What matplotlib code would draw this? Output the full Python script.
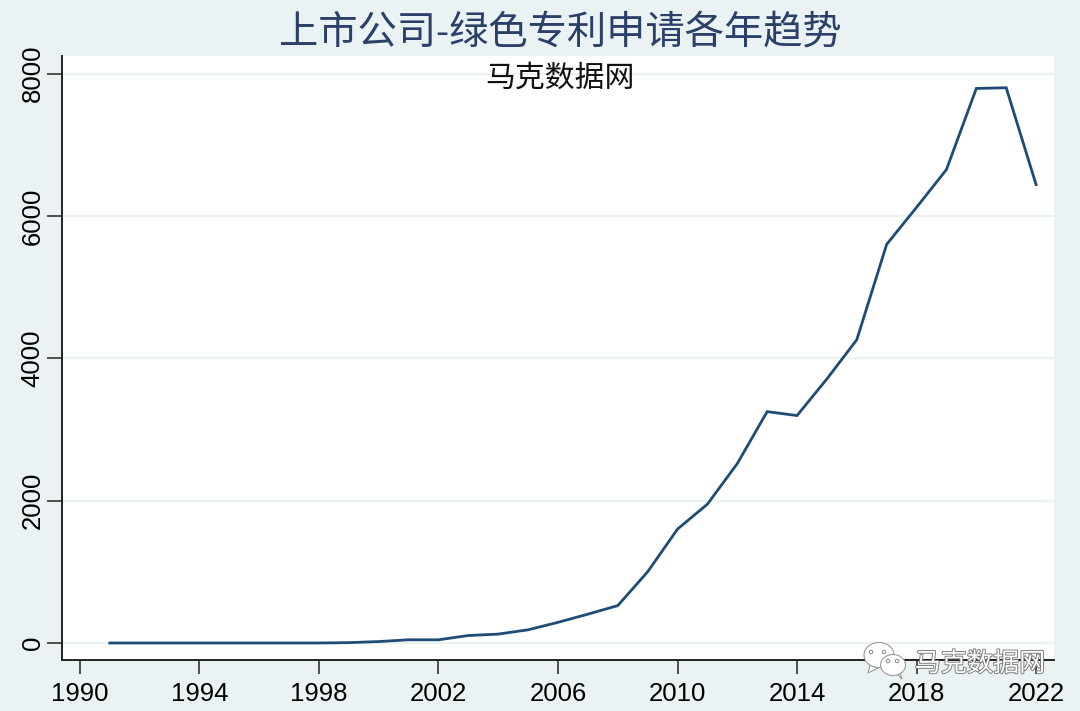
import matplotlib
matplotlib.use("Agg")
import matplotlib.pyplot as plt
import matplotlib.patheffects as pe
from matplotlib.patches import Ellipse, Polygon

plt.rcParams['font.family'] = ['Liberation Sans', 'Noto Sans CJK SC', 'DejaVu Sans']

years = list(range(1991, 2023))
patents = [0, 0, 0, 0, 0, 0, 0, 0, 5, 20, 45, 45, 105, 125, 185, 290,
           405, 525, 1000, 1600, 1950, 2520, 3250, 3195, 3710, 4260,
           5600, 6120, 6650, 7790, 7800, 6440]
x_ticks = list(range(1990, 2023, 4))
y_ticks = [0, 2000, 4000, 6000, 8000]

title_text = "上市公司-绿色专利申请各年趋势"
note_text = "马克数据网"

W, H = 1080, 711
BG = "#eaf2f3"
NAVY = "#1f4c75"

fig = plt.figure(figsize=(W / 100, H / 100), dpi=100, facecolor=BG)
ax = fig.add_axes([62 / W, 1 - 660 / H, (1054 - 62) / W, (660 - 56) / H])
ax.set_facecolor("white")

ax.plot(years, patents, color=NAVY, lw=2.0, solid_joinstyle="miter", zorder=3)

ax.set_xlim(1989.4, 2022.6)
ax.set_ylim(-239, 8246)
ax.set_xticks(x_ticks)
ax.set_yticks(y_ticks)
ax.yaxis.grid(True, color=BG, lw=1.7)
ax.set_axisbelow(True)

for side in ["top", "right"]:
    ax.spines[side].set_visible(False)
for side in ["left", "bottom"]:
    ax.spines[side].set_linewidth(1.4)
    ax.spines[side].set_color("#222222")

ax.tick_params(axis="x", length=10, width=1.2, color="#333333", labelsize=18.5, pad=6)
ax.tick_params(axis="y", length=11, width=1.2, color="#333333", labelsize=18.5, pad=1.5)
for lab in ax.get_yticklabels():
    lab.set_rotation(90)
    lab.set_va("center")

fig.text(560 / W, 1 - 33 / H, title_text, color="#2b3f68", fontsize=28.3,
         ha="center", va="center", fontweight="light")
fig.text(560 / W, 1 - 79 / H, note_text, color="#111111", fontsize=21.5,
         ha="center", va="center")

# wechat watermark, bottom right corner
wm_edge = "#9a9a9a"
fig.text(980 / W, 1 - 664 / H, note_text, color="white", fontsize=18.8,
         ha="center", va="center", zorder=10,
         path_effects=[pe.withStroke(linewidth=1.3, foreground="#777777")])
icon_ax = fig.add_axes([0, 0, 1, 1], facecolor="none", zorder=9)
icon_ax.set_xlim(0, W)
icon_ax.set_ylim(H, 0)
icon_ax.axis("off")
icon_ax.add_patch(Polygon([(870, 665), (868, 673), (878, 668)], fc="white", ec=wm_edge, lw=0.8))
icon_ax.add_patch(Ellipse((879, 655), 30, 25, fc="white", ec=wm_edge, lw=0.8))
icon_ax.add_patch(Polygon([(896, 673), (902, 679), (899, 670)], fc="white", ec=wm_edge, lw=0.8))
icon_ax.add_patch(Ellipse((893, 665), 25, 21, fc="white", ec=wm_edge, lw=0.8))
for ex, ey in [(871, 652), (884, 652), (888, 661), (897, 661)]:
    icon_ax.add_patch(Ellipse((ex, ey), 3.5, 3.5, fc="white", ec="#888888", lw=0.7))

fig.savefig("out.png", dpi=100, facecolor=BG)
